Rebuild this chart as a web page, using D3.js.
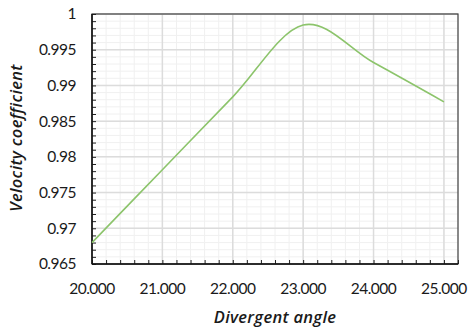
<!DOCTYPE html>
<html>
<head>
<meta charset="utf-8">
<script src="https://cdn.jsdelivr.net/npm/d3@7"></script>
<style>
  body { margin: 0; background: #fff; }
  svg text { font-family: Lato, "Open Sans", sans-serif; fill: #1a1a1a; }
</style>
</head>
<body>
<div id="chart"></div>
<script>
// valeurs
const angles = [20, 21, 22, 23, 24, 25];
const velocityCoef = [0.968, 0.9782, 0.9884, 0.99845, 0.9932, 0.9877];
const xTicks = [20, 21, 22, 23, 24, 25];
const yTicks = [0.965, 0.97, 0.975, 0.98, 0.985, 0.99, 0.995, 1];

const width = 471, height = 333;
const margin = { top: 14, right: 13, bottom: 69, left: 92 };
const w = width - margin.left - margin.right,
      h = height - margin.top - margin.bottom;

const svg = d3.select('#chart')
  .append('svg')
  .attr('width', width)
  .attr('height', height);

const g = svg.append('g')
  .attr('transform', `translate(${margin.left},${margin.top})`);

const x = d3.scaleLinear().domain([20, 25.2]).range([0, w]);
const y = d3.scaleLinear().domain([0.965, 1]).range([h, 0]);

// grille mineure
const xMinor = d3.range(20, 25.2001, 0.2);
const yMinor = d3.range(0.965, 1.0001, 0.001);

g.append('g').selectAll('line')
  .data(xMinor)
  .enter().append('line')
  .attr('x1', d => x(d)).attr('x2', d => x(d))
  .attr('y1', 0).attr('y2', h)
  .attr('stroke', '#f0f0f0');

g.append('g').selectAll('line')
  .data(yMinor)
  .enter().append('line')
  .attr('x1', 0).attr('x2', w)
  .attr('y1', d => y(d)).attr('y2', d => y(d))
  .attr('stroke', '#f0f0f0');

// grille majeure
g.append('g').selectAll('line')
  .data(xTicks)
  .enter().append('line')
  .attr('x1', d => x(d)).attr('x2', d => x(d))
  .attr('y1', 0).attr('y2', h)
  .attr('stroke', '#dcdcdc')
  .attr('stroke-width', 1.5);

g.append('g').selectAll('line')
  .data(yTicks)
  .enter().append('line')
  .attr('x1', 0).attr('x2', w)
  .attr('y1', d => y(d)).attr('y2', d => y(d))
  .attr('stroke', '#dcdcdc')
  .attr('stroke-width', 1.5);

// cadre
g.append('rect')
  .attr('width', w).attr('height', h)
  .attr('fill', 'none')
  .attr('stroke', '#404040')
  .attr('stroke-width', 1.2);

// axes avec graduations vers l'intérieur
const xAxis = d3.axisTop(x).tickValues(xMinor).tickSize(4).tickFormat('');
const yAxis = d3.axisRight(y).tickValues(yMinor).tickSize(4).tickFormat('');

const xa = g.append('g')
  .attr('transform', `translate(0,${h})`)
  .call(xAxis);
xa.select('.domain').remove();
xa.selectAll('line').attr('stroke', '#222');

const ya = g.append('g').call(yAxis);
ya.select('.domain').remove();
ya.selectAll('line').attr('stroke', '#222');

g.append('line')
  .attr('x1', 0).attr('x2', w).attr('y1', h).attr('y2', h)
  .attr('stroke', '#111').attr('stroke-width', 1.5);
g.append('line')
  .attr('x1', 0).attr('x2', 0).attr('y1', 0).attr('y2', h)
  .attr('stroke', '#111').attr('stroke-width', 1.5);

// libellés
g.append('g').selectAll('text')
  .data(xTicks)
  .enter().append('text')
  .attr('x', d => x(d))
  .attr('y', h + 30)
  .attr('text-anchor', 'middle')
  .style('font-size', '15.5px')
  .style('letter-spacing', '-0.5px')
  .text(d => d3.format('.3f')(d));

g.append('g').selectAll('text')
  .data(yTicks)
  .enter().append('text')
  .attr('x', -16)
  .attr('y', d => y(d))
  .attr('dy', '0.35em')
  .attr('text-anchor', 'end')
  .style('font-size', '15.5px')
  .style('letter-spacing', '-0.5px')
  .text(d => d3.format('~g')(d));

// courbe
const line = d3.line()
  .x((d, i) => x(angles[i]))
  .y(d => y(d))
  .curve(d3.curveCardinal.tension(0));

g.append('path')
  .datum(velocityCoef)
  .attr('fill', 'none')
  .attr('stroke', '#8cc46b')
  .attr('stroke-width', 1.6)
  .attr('d', line);

// titres des axes
svg.append('text')
  .attr('x', margin.left + w / 2)
  .attr('y', 323)
  .attr('text-anchor', 'middle')
  .style('font-family', '"Open Sans", sans-serif')
  .style('font-size', '16.5px')
  .style('letter-spacing', '0.3px')
  .style('font-style', 'italic')
  .style('font-weight', 600)
  .text('Divergent angle');

svg.append('text')
  .attr('transform', 'translate(22,138) rotate(-90)')
  .attr('text-anchor', 'middle')
  .style('font-family', '"Open Sans", sans-serif')
  .style('font-size', '16.5px')
  .style('letter-spacing', '0.3px')
  .style('font-style', 'italic')
  .style('font-weight', 600)
  .text('Velocity coefficient');
</script>
</body>
</html>
